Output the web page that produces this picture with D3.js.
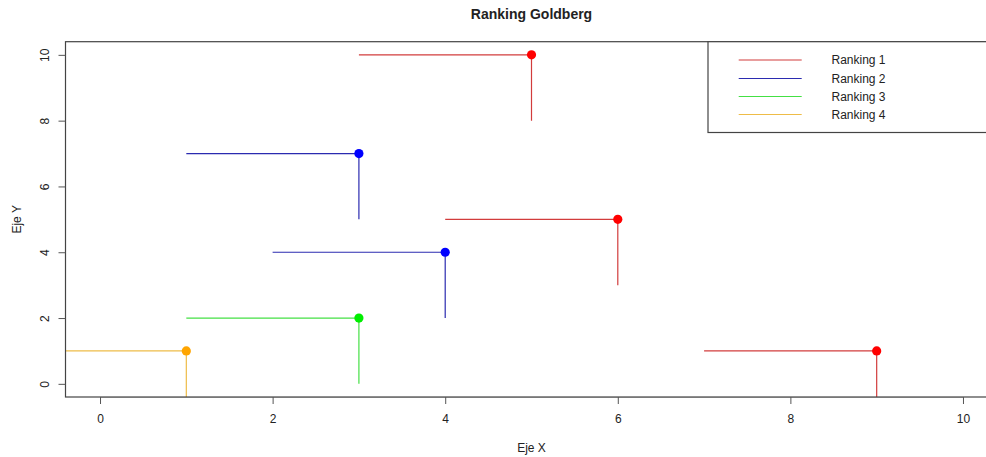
<!DOCTYPE html>
<html><head><meta charset="utf-8">
<script src="https://cdn.jsdelivr.net/npm/d3@7"></script>
<style>
body{margin:0;background:#fff;}
text{font-family:"Liberation Sans",Arial,sans-serif;fill:#222;}
</style></head>
<body><svg id="c" width="986" height="457"></svg>
<script>
const series = ["Ranking 1","Ranking 2","Ranking 3","Ranking 4"];
const lineColors = ["#d23c3c","#2b2bb0","#44e044","#eebc48"];
const pointColors = ["#ff0000","#0000ff","#00ee00","#ffa500"];
// each point: series index, x, y ; horizontal segment from xFrom to x, vertical from yFrom to y
const seriesIdx = [0,0,0,1,1,2,3];
const xs      = [5,6,9,3,4,3,1];
const ys      = [10,5,1,7,4,2,1];
const xFrom   = [3,4,7,1,2,1,-1];
const yFrom   = [8,3,-1,5,2,0,-1];
const xTicks = [0,2,4,6,8,10];
const yTicks = [0,2,4,6,8,10];

const svg = d3.select("#c");
const L=65.5, R=997.5, T=41.7, B=397;
const x = d3.scaleLinear().domain([-0.4,10.4]).range([L,R]);
const y = d3.scaleLinear().domain([-0.4,10.4]).range([B,T]);

svg.append("defs").append("clipPath").attr("id","clip")
  .append("rect").attr("x",L).attr("y",T).attr("width",R-L).attr("height",B-T);

const g = svg.append("g").attr("clip-path","url(#clip)");
const data = xs.map((v,i)=>({s:seriesIdx[i],x:v,y:ys[i],x0:xFrom[i],y0:yFrom[i]}));
g.selectAll("line.h").data(data).join("line").attr("class","h")
  .attr("x1",d=>x(d.x0)).attr("x2",d=>x(d.x)).attr("y1",d=>y(d.y)).attr("y2",d=>y(d.y))
  .attr("stroke",d=>lineColors[d.s]).attr("stroke-width",1.2);
g.selectAll("line.v").data(data).join("line").attr("class","v")
  .attr("x1",d=>x(d.x)).attr("x2",d=>x(d.x)).attr("y1",d=>y(d.y0)).attr("y2",d=>y(d.y))
  .attr("stroke",d=>lineColors[d.s]).attr("stroke-width",1.2);
g.selectAll("circle").data(data).join("circle")
  .attr("cx",d=>x(d.x)).attr("cy",d=>y(d.y)).attr("r",4.6)
  .attr("fill",d=>pointColors[d.s]);

// box
svg.append("rect").attr("x",L).attr("y",T).attr("width",R-L).attr("height",B-T)
  .attr("fill","none").attr("stroke","#444").attr("stroke-width",1.2);

// axes
const xa = svg.append("g").attr("transform",`translate(0,${B})`)
  .call(d3.axisBottom(x).tickValues(xTicks).tickSize(7).tickPadding(10).tickFormat(d3.format("d")));
xa.select(".domain").attr("stroke","#777").attr("d",`M${x(0)},0.5H${x(10)}`);
xa.selectAll(".tick line").attr("stroke","#555");
xa.selectAll(".tick text").attr("font-size",12).attr("fill","#222").attr("font-family","Liberation Sans, Arial, sans-serif");

const ya = svg.append("g").attr("transform",`translate(${L},0)`)
  .call(d3.axisLeft(y).tickValues(yTicks).tickSize(7).tickFormat(d3.format("d")));
ya.select(".domain").remove();
ya.selectAll(".tick line").attr("stroke","#555");
ya.selectAll(".tick text").attr("font-size",12).attr("fill","#222")
  .attr("font-family","Liberation Sans, Arial, sans-serif")
  .attr("text-anchor","middle").attr("x",null).attr("dy",null)
  .attr("transform","translate(-21,0) rotate(-90)").attr("dy","0.35em");

// titles
svg.append("text").attr("x",(L+R)/2).attr("y",19).attr("text-anchor","middle")
  .attr("font-weight","bold").attr("font-size",14).text("Ranking Goldberg");
svg.append("text").attr("x",(L+R)/2).attr("y",452).attr("text-anchor","middle")
  .attr("font-size",12).text("Eje X");
svg.append("text").attr("transform",`translate(21,${(T+B)/2}) rotate(-90)`).attr("text-anchor","middle")
  .attr("font-size",12).text("Eje Y");

// legend
const lx=708, ly=T;
svg.append("rect").attr("x",lx).attr("y",ly).attr("width",R-lx).attr("height",132.5-ly)
  .attr("fill","#fff").attr("stroke","#444").attr("stroke-width",1.2);
const legY = [60,78.5,96.5,114.5];
series.forEach((s,i)=>{
  svg.append("line").attr("x1",738.7).attr("x2",801.7).attr("y1",legY[i]).attr("y2",legY[i])
    .attr("stroke",lineColors[i]).attr("stroke-width",1.2);
  svg.append("text").attr("x",831.5).attr("y",legY[i]).attr("dy","0.35em")
    .attr("font-size",12).text(s);
});
</script></body></html>
